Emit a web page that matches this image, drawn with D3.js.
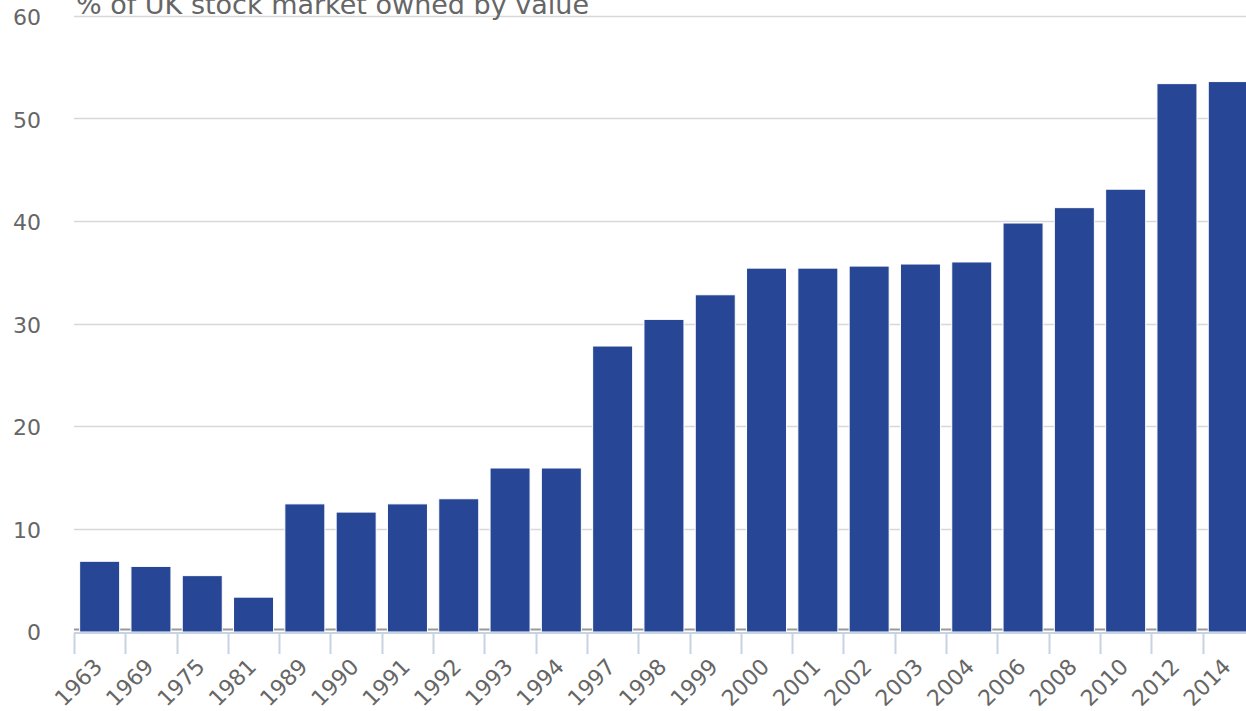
<!DOCTYPE html>
<html>
<head>
<meta charset="utf-8">
<script src="https://cdn.jsdelivr.net/npm/d3@7"></script>
<style>
  body { margin: 0; background: #fff; }
  svg { display: block; font-family: "DejaVu Sans", sans-serif; }
</style>
</head>
<body>
<div id="chart"></div>
<script>
// data
var years = ["1963","1969","1975","1981","1989","1990","1991","1992","1993","1994","1997","1998","1999","2000","2001","2002","2003","2004","2006","2008","2010","2012","2014"];
var shares = [6.9, 6.4, 5.5, 3.4, 12.5, 11.7, 12.5, 13.0, 16.0, 16.0, 27.9, 30.5, 32.9, 35.5, 35.5, 35.7, 35.9, 36.1, 39.9, 41.4, 43.2, 53.5, 53.7];
var yTicks = [0, 10, 20, 30, 40, 50, 60];
var yLabel = "% of UK stock market owned by value";

var W = 1246, H = 711;
var margin = {top: 17, left: 74, bottom: 79};
var height = H - margin.top - margin.bottom;
var step = 51.3;

var svg = d3.select("#chart").append("svg")
  .attr("width", W)
  .attr("height", H);

var x = d3.scaleBand()
  .domain(years)
  .range([margin.left, margin.left + step * years.length])
  .paddingInner(0.22)
  .paddingOuter(0.11);

var y = d3.scaleLinear()
  .domain([0, 60])
  .range([margin.top + height, margin.top]);

// gridlines
svg.append("g").selectAll("line")
  .data(yTicks)
  .enter().append("line")
  .attr("x1", margin.left)
  .attr("x2", W)
  .attr("y1", function(d) { return Math.round(y(d)) - 0.5 - (d === 0 ? 2 : 0); })
  .attr("y2", function(d) { return Math.round(y(d)) - 0.5 - (d === 0 ? 2 : 0); })
  .attr("stroke", function(d) { return d === 0 ? "#999" : "#d8d8d8"; })
  .attr("stroke-width", function(d) { return d === 0 ? 2 : 1.5; });

// y labels
svg.append("g").selectAll("text")
  .data(yTicks)
  .enter().append("text")
  .attr("x", 41)
  .attr("y", function(d) { return y(d) + 8; })
  .attr("text-anchor", "end")
  .attr("font-size", "22px")
  .attr("fill", "#666")
  .text(function(d) { return d; });

// bars
svg.append("g").selectAll("rect")
  .data(years)
  .enter().append("rect")
  .attr("x", function(d) { return x(d); })
  .attr("width", x.bandwidth())
  .attr("y", function(d, i) { return y(shares[i]); })
  .attr("height", function(d, i) { return y(0) - y(shares[i]); })
  .attr("fill", "#274695")
  .attr("stroke", "#fff")
  .attr("stroke-width", 1);

// x axis line and ticks at band edges
var axisY = y(0) + 1;
svg.append("line")
  .attr("x1", margin.left).attr("x2", W)
  .attr("y1", axisY).attr("y2", axisY)
  .attr("stroke", "#c6d3e3").attr("stroke-width", 2);

svg.append("g").selectAll("line")
  .data(years)
  .enter().append("line")
  .attr("x1", function(d) { return Math.round(x(d) - x.step() * x.paddingOuter()) + 0.5; })
  .attr("x2", function(d) { return Math.round(x(d) - x.step() * x.paddingOuter()) + 0.5; })
  .attr("y1", axisY)
  .attr("y2", axisY + 21)
  .attr("stroke", "#c6d3e3").attr("stroke-width", 2);

// x labels
svg.append("g").selectAll("text")
  .data(years)
  .enter().append("text")
  .attr("transform", function(d) {
    return "translate(" + (x(d) + x.bandwidth() / 2 + 4) + "," + (axisY + 35) + ") rotate(-45)";
  })
  .attr("text-anchor", "end")
  .attr("font-size", "22px")
  .attr("fill", "#666")
  .text(function(d) { return d; });

// axis title
svg.append("text")
  .attr("x", 76)
  .attr("y", 14)
  .attr("font-size", "27px")
  .attr("fill", "#666")
  .text(yLabel);
</script>
</body>
</html>
